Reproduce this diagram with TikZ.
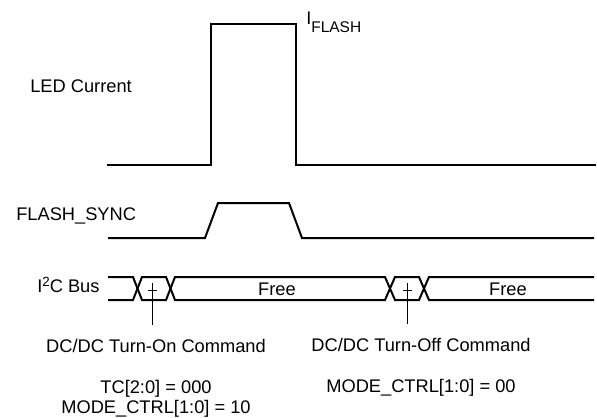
\documentclass[tikz,border=0pt]{standalone}
\usepackage{fontspec}
\setmainfont{Liberation Sans}
\usetikzlibrary{positioning}

\tikzset{
  wave/.style={line width=1.5pt, line join=miter},
  marker/.style={line width=0.75pt},
  sig/.style={inner sep=0pt, anchor=base west},
  txt/.style={inner sep=0pt, anchor=base}
}

\begin{document}
\begin{tikzpicture}[x=0.75pt,y=-0.75pt,font=\fontsize{13.7}{16}\selectfont]
  \useasboundingbox (0,0) rectangle (597,418);
  % signal names
  \node[sig] (led) at (30,92) {LED Current};
  \node[sig] (sync) at (16,220) {FLASH\_SYNC};
  \node[sig] (bus) at (37,292) {I\raisebox{4.5pt}{\fontsize{10}{10}\selectfont 2}C Bus};
  \node[sig] (iflash) at (306,24) {I\raisebox{-6pt}{\fontsize{11.6}{12}\selectfont FLASH}};
  % waveforms
  \draw[wave] (107,165) -- (211,165) -- (211,24) -- (296,24) -- (296,165) -- (596,165);
  \draw[wave] (108,238) -- (205,238) -- (218,203) -- (289,203) -- (302,238) -- (594,238);
  \draw[wave] (108,277) -- (133,277) -- (142,300) -- (166,300) -- (175,277) -- (385,277)
    -- (395,300) -- (419,300) -- (429,277) -- (594,277);
  \draw[wave] (108,300) -- (133,300) -- (142,277) -- (166,277) -- (175,300) -- (385,300)
    -- (395,277) -- (419,277) -- (429,300) -- (594,300);
  \node[txt] (free1) at (277,295) {Free};
  \node[txt] (free2) at (508,295) {Free};
  % commands
  \node[txt] (oncmd) at (156,352) {DC/DC Turn-On Command};
  \node[txt] (oncfg) at (156,393) {TC[2:0] = 000};
  \node[txt] (onmode) at (156,413) {MODE\_CTRL[1:0] = 10};
  \node[txt] (offcmd) at (421,351) {DC/DC Turn-Off Command};
  \node[txt] (offmode) at (421,392) {MODE\_CTRL[1:0] = 00};
  \coordinate (on) at (152,283);
  \coordinate (off) at (407,283);
  \foreach \c/\l in {on/oncmd,off/offcmd}{
    \draw[marker] ([shift={(-4.5,7)}]\c) -- ++(9,0);
    \draw[marker,shorten >=10pt] (\c) -- (\c |- \l.north);
  }
\end{tikzpicture}
\end{document}
